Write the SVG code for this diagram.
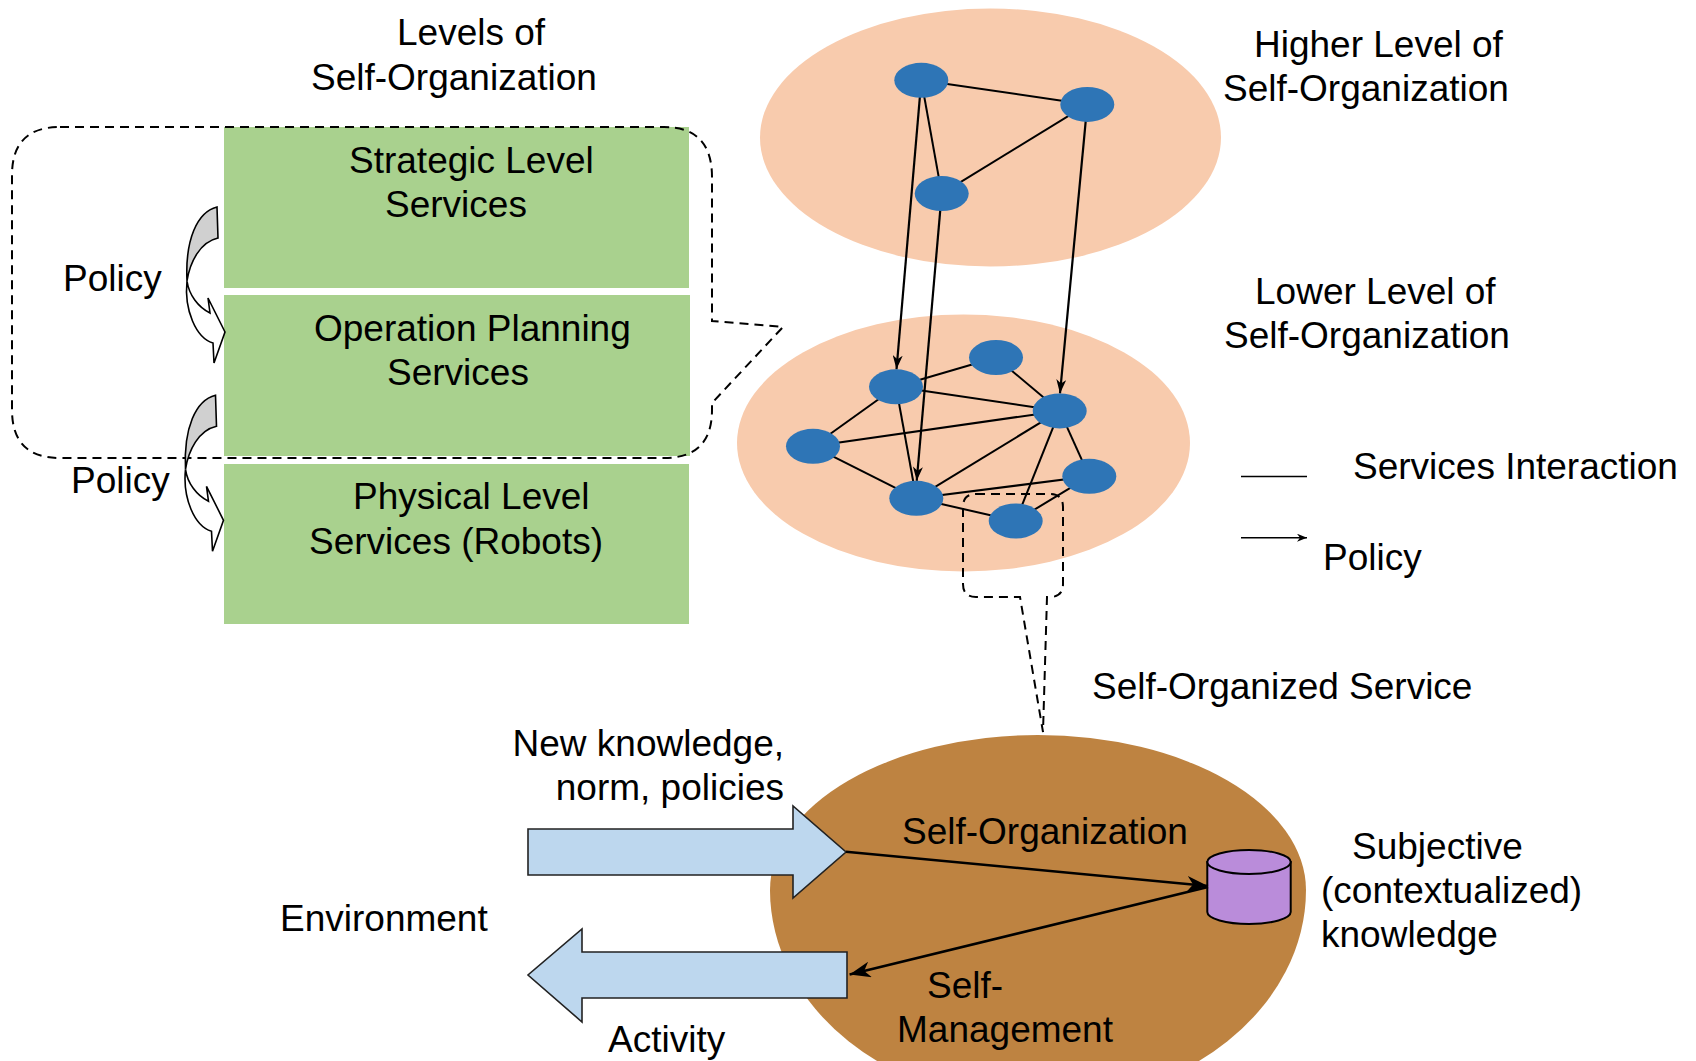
<svg xmlns="http://www.w3.org/2000/svg" width="1696" height="1061" viewBox="0 0 1696 1061">
<defs>
<style>
text{font-family:"Liberation Sans",Arial,sans-serif;font-size:37px;fill:#000}
.box{fill:#A9D18E}
.node{fill:#2E75B6}
.edge{stroke:#000;stroke-width:2;fill:none}
.pol{stroke:#000;stroke-width:2.2;fill:none;marker-end:url(#ah)}
.big{stroke:#000;stroke-width:2.6;fill:none;marker-end:url(#ahb)}
.dash{stroke:#000;stroke-width:2;fill:none;stroke-dasharray:9 6}
.barrow{fill:#BDD7EE;stroke:#222;stroke-width:1.6}
.cback{fill:#D0D0D0;stroke:#000;stroke-width:1.6}
.cfront{fill:#fff;stroke:#000;stroke-width:1.6}
</style>
<marker id="ah" markerUnits="userSpaceOnUse" markerWidth="15" markerHeight="10" refX="14" refY="5" orient="auto">
<path d="M0,0 L14,5 L0,10 L4,5 Z" fill="#000"/>
</marker>
<marker id="ahb" markerUnits="userSpaceOnUse" markerWidth="22" markerHeight="16" refX="21" refY="8" orient="auto">
<path d="M0,0 L21,8 L0,16 L6,8 Z" fill="#000"/>
</marker>
<marker id="ahs" markerUnits="userSpaceOnUse" markerWidth="11" markerHeight="8" refX="10" refY="4" orient="auto">
<path d="M0,0 L10,4 L0,8 L3,4 Z" fill="#000"/>
</marker>
<g id="curvedArrow">
<path class="cback" d="M217,207 C197,212 185,240 187,281 C190,262 200,242 218,238 Z"/>
<path class="cfront" d="M187,281 C184,310 196,338 213,343 L214,363 L225,332 L208,298 L210,313 C198,307 189,295 187,281 Z"/>
</g>
</defs>

<!-- Left: levels of self-organization -->
<g id="title-levels">
<text x="397" y="45">Levels of</text>
<text x="311" y="90">Self-Organization</text>
</g>
<g id="strategic">
<rect class="box" x="224" y="127" width="465" height="161"/>
<text x="349" y="173">Strategic Level</text>
<text x="385" y="217">Services</text>
</g>
<g id="operation">
<rect class="box" x="224" y="295" width="466" height="161"/>
<text x="314" y="341">Operation Planning</text>
<text x="387" y="385">Services</text>
</g>
<g id="physical">
<rect class="box" x="224" y="464" width="465" height="160"/>
<text x="353" y="509">Physical Level</text>
<text x="309" y="554">Services (Robots)</text>
</g>
<g id="callout-left">
<path class="dash" d="M60,127 H664 Q712,127 712,177 V321 L783,327 L712,403 V410 Q712,458 664,458 H60 Q12,458 12,410 V175 Q12,127 60,127 Z"/>
</g>
<g id="policy-arrow-1">
<use href="#curvedArrow"/>
<text x="63" y="291">Policy</text>
</g>
<g id="policy-arrow-2">
<use href="#curvedArrow" transform="translate(-1.5,188.3)"/>
<text x="71" y="493">Policy</text>
</g>

<!-- Right: levels -->
<g id="higher-level">
<ellipse cx="990.5" cy="137.5" rx="230.5" ry="129" fill="#F8CBAD"/>
<text x="1254" y="57">Higher Level of</text>
<text x="1223" y="101">Self-Organization</text>
</g>
<g id="lower-level">
<ellipse cx="963.5" cy="443" rx="226.5" ry="128.5" fill="#F8CBAD"/>
<text x="1255" y="304">Lower Level of</text>
<text x="1224" y="348">Self-Organization</text>
</g>

<g id="connectors">
<!-- upper level interactions -->
<line class="edge" x1="921.3" y1="80.3" x2="1087.3" y2="104.4"/>
<line class="edge" x1="1087.3" y1="104.4" x2="941.7" y2="193.6"/>
<line class="edge" x1="921.3" y1="80.3" x2="941.7" y2="193.6"/>
<!-- lower level interactions -->
<line class="edge" x1="896" y1="386.8" x2="996" y2="357.5"/>
<line class="edge" x1="896" y1="386.8" x2="1059.7" y2="410.9"/>
<line class="edge" x1="896" y1="386.8" x2="813" y2="446.3"/>
<line class="edge" x1="896" y1="386.8" x2="916.3" y2="498.3"/>
<line class="edge" x1="813" y1="446.3" x2="1059.7" y2="410.9"/>
<line class="edge" x1="813" y1="446.3" x2="916.3" y2="498.3"/>
<line class="edge" x1="996" y1="357.5" x2="1059.7" y2="410.9"/>
<line class="edge" x1="1059.7" y1="410.9" x2="916.3" y2="498.3"/>
<line class="edge" x1="1059.7" y1="410.9" x2="1089.3" y2="476.3"/>
<line class="edge" x1="1059.7" y1="410.9" x2="1015.7" y2="521"/>
<line class="edge" x1="916.3" y1="498.3" x2="1089.3" y2="476.3"/>
<line class="edge" x1="916.3" y1="498.3" x2="1015.7" y2="521"/>
<line class="edge" x1="1089.3" y1="476.3" x2="1015.7" y2="521"/>
<!-- policies -->
<line class="pol" x1="921.3" y1="80.3" x2="896.5" y2="369.3"/>
<line class="pol" x1="941.7" y1="193.6" x2="916.7" y2="480.8"/>
<line class="pol" x1="1087.3" y1="104.4" x2="1060" y2="393.4"/>
</g>

<g id="h1"><ellipse class="node" cx="921.3" cy="80.3" rx="27" ry="17.5"/></g>
<g id="h2"><ellipse class="node" cx="1087.3" cy="104.4" rx="27" ry="17.5"/></g>
<g id="h3"><ellipse class="node" cx="941.7" cy="193.6" rx="27" ry="17.5"/></g>
<g id="l1"><ellipse class="node" cx="896" cy="386.8" rx="27" ry="17.5"/></g>
<g id="l2"><ellipse class="node" cx="996" cy="357.5" rx="27" ry="17.5"/></g>
<g id="l3"><ellipse class="node" cx="1059.7" cy="410.9" rx="27" ry="17.5"/></g>
<g id="l4"><ellipse class="node" cx="813" cy="446.3" rx="27" ry="17.5"/></g>
<g id="l5"><ellipse class="node" cx="916.3" cy="498.3" rx="27" ry="17.5"/></g>
<g id="l6"><ellipse class="node" cx="1089.3" cy="476.3" rx="27" ry="17.5"/></g>
<g id="l7"><ellipse class="node" cx="1015.7" cy="521" rx="27" ry="17.5"/></g>

<g id="callout-service">
<path class="dash" d="M976,494 H1050 Q1063,494 1063,507 V584 Q1063,597 1050,597 H1047 L1043,732 L1020,597 H976 Q963,597 963,584 V507 Q963,494 976,494 Z"/>
</g>

<!-- legend -->
<g id="legend">
<line x1="1241" y1="476.5" x2="1307" y2="476.5" stroke="#000" stroke-width="1.6"/>
<text x="1353" y="479">Services Interaction</text>
<line x1="1241" y1="537.7" x2="1307" y2="537.7" stroke="#000" stroke-width="1.6" marker-end="url(#ahs)"/>
<text x="1323" y="570">Policy</text>
</g>

<!-- Self-organized service -->
<text x="1092" y="699">Self-Organized Service</text>
<g id="service">
<path d="M770,890 A268,155 0 0 1 1306,890 A268,214 0 0 1 770,890 Z" fill="#BE8341"/>
</g>
<g id="input-arrow">
<polygon class="barrow" points="528,829 793,829 793,806 846,852 793,898 793,875 528,875"/>
<text x="784" y="756" text-anchor="end">New knowledge,</text>
<text x="784" y="800" text-anchor="end">norm, policies</text>
</g>
<g id="output-arrow">
<polygon class="barrow" points="847,952 582,952 582,929 528,975 582,1022 582,998 847,998"/>
<text x="608" y="1052">Activity</text>
</g>
<text x="280" y="931">Environment</text>
<g id="knowledge">
<path d="M1207.3,862 V912 A41.7,12 0 0 0 1290.7,912 V862 Z" fill="#BA8CDA" stroke="#000" stroke-width="2"/>
<ellipse cx="1249" cy="862" rx="41.7" ry="12" fill="#BA8CDA" stroke="#000" stroke-width="2"/>
<text x="1352" y="859">Subjective</text>
<text x="1321" y="903">(contextualized)</text>
<text x="1321" y="947">knowledge</text>
</g>
<g id="connectors-service">
<line class="big" x1="846" y1="851.7" x2="1208" y2="886"/>
<line class="big" x1="1208" y1="887" x2="849.6" y2="974.5"/>
</g>
<text x="902" y="844">Self-Organization</text>
<text x="927" y="998">Self-</text>
<text x="897" y="1042">Management</text>
</svg>
